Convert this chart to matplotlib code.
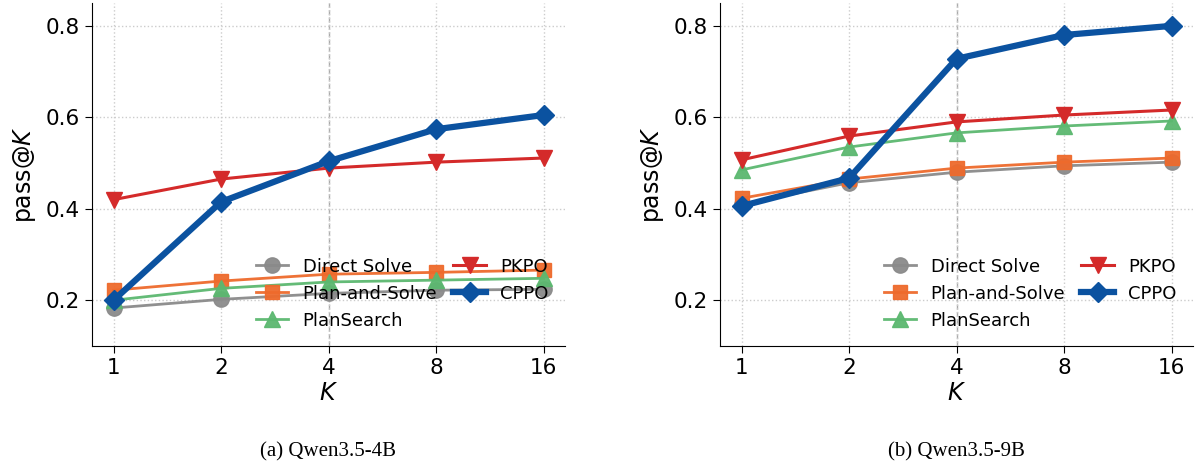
import numpy as np
import matplotlib.pyplot as plt

K = [1, 2, 4, 8, 16]
methods = ['Direct Solve', 'Plan-and-Solve', 'PlanSearch', 'PKPO', 'CPPO']

# Qwen3.5-4B
direct_4b = [0.183, 0.202, 0.215, 0.222, 0.224]
pns_4b = [0.222, 0.242, 0.257, 0.261, 0.266]
plansearch_4b = [0.200, 0.226, 0.240, 0.244, 0.248]
pkpo_4b = [0.420, 0.465, 0.489, 0.502, 0.511]
cppo_4b = [0.200, 0.415, 0.504, 0.574, 0.605]

# Qwen3.5-9B
direct_9b = [0.410, 0.457, 0.480, 0.494, 0.502]
pns_9b = [0.423, 0.465, 0.489, 0.502, 0.511]
plansearch_9b = [0.485, 0.535, 0.566, 0.581, 0.592]
pkpo_9b = [0.507, 0.559, 0.590, 0.605, 0.616]
cppo_9b = [0.406, 0.467, 0.728, 0.780, 0.800]

captions = ['(a) Qwen3.5-4B', '(b) Qwen3.5-9B']

styles = {
    'Direct Solve': dict(color='#8a8a8a', marker='o', lw=2, ms=11, alpha=0.95),
    'Plan-and-Solve': dict(color='#ee6a2c', marker='s', lw=2, ms=10.5, alpha=0.95),
    'PlanSearch': dict(color='#5cb870', marker='^', lw=2, ms=11, alpha=0.95),
    'PKPO': dict(color='#d42a2a', marker='v', lw=2.2, ms=12),
    'CPPO': dict(color='#0b52a0', marker='D', lw=4.5, ms=10.5),
}

plt.rcParams['font.family'] = 'DejaVu Sans'
fig = plt.figure(figsize=(11.98, 4.68), dpi=100)
W, H = 1198, 468
ax_left = fig.add_axes([92 / W, (H - 346) / H, 473 / W, 343 / H])
ax_right = fig.add_axes([720 / W, (H - 346) / H, 473 / W, 343 / H])

panels = [
    (ax_left, [direct_4b, pns_4b, plansearch_4b, pkpo_4b, cppo_4b]),
    (ax_right, [direct_9b, pns_9b, plansearch_9b, pkpo_9b, cppo_9b]),
]

x = np.log2(K)
for i, (ax, series) in enumerate(panels):
    ax.axvline(np.log2(4), color='#aaaaaa', ls='--', lw=1.0, zorder=1)
    for name, vals in zip(methods, series):
        ax.plot(x, vals, label=name, zorder=3, **styles[name])
    ax.set_xlim(-0.2, 4.2)
    ax.set_ylim(0.1, 0.85)
    ax.set_xticks(x)
    ax.set_xticklabels([str(k) for k in K])
    ax.set_yticks([0.2, 0.4, 0.6, 0.8])
    ax.tick_params(labelsize=15.5, length=5)
    ax.grid(True, ls=':', color='#cccccc', lw=1.0)
    ax.spines['top'].set_visible(False)
    ax.spines['right'].set_visible(False)
    ax.set_xlabel('$K$', fontsize=17, labelpad=2)
    ax.set_ylabel('pass@$K$', fontsize=17, labelpad=6)
    ax.legend(ncol=2, loc='lower right', bbox_to_anchor=(1.0, 0.0),
              frameon=False, fontsize=13, handlelength=1.8,
              columnspacing=0.9, handletextpad=0.8, labelspacing=0.5)
    bb = ax.get_position()
    fig.text(bb.x0 + bb.width / 2, 1 - 452 / H, captions[i],
             ha='center', va='center', fontsize=15, family='Liberation Serif')

fig.savefig('out.png', dpi=100)
